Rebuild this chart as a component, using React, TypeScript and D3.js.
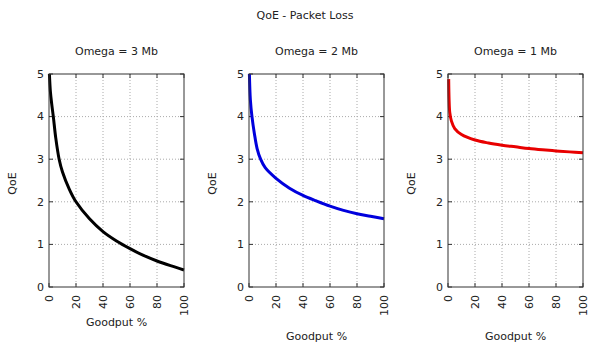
import { useMemo } from 'react';
import * as d3 from 'd3';

const chartTitle = 'QoE - Packet Loss';
const panelTitles = ['Omega = 3 Mb', 'Omega = 2 Mb', 'Omega = 1 Mb'];
const panelColours = ['#000000', '#0000dd', '#e80000'];
const xTicks = [0, 20, 40, 60, 80, 100];
const yTicks = [0, 1, 2, 3, 4, 5];

// goodput %, one list per panel
const goodput3Mb = [0.3, 1, 2, 3.2, 5, 7.5, 10, 15, 20, 30, 40, 50, 60, 70, 80, 90, 100];
const qoe3Mb = [5, 4.6, 4.3, 4, 3.5, 3, 2.7, 2.3, 2.0, 1.6, 1.3, 1.08, 0.9, 0.74, 0.61, 0.5, 0.4];
const goodput2Mb = [0.3, 1, 2.2, 4, 6, 8.6, 12, 20, 30, 40, 50, 60, 70, 80, 90, 100];
const qoe2Mb = [5, 4.4, 4, 3.6, 3.25, 3, 2.8, 2.55, 2.32, 2.15, 2.02, 1.9, 1.8, 1.72, 1.66, 1.6];
const goodput1Mb = [0.5, 0.8, 1.3, 2.5, 5, 10, 20, 30, 40, 50, 60, 70, 80, 90, 100];
const qoe1Mb = [4.88, 4.4, 4.1, 3.9, 3.72, 3.58, 3.45, 3.38, 3.33, 3.29, 3.25, 3.22, 3.195, 3.172, 3.15];

const seriesX = [goodput3Mb, goodput2Mb, goodput1Mb];
const seriesY = [qoe3Mb, qoe2Mb, qoe1Mb];

const WIDTH = 594;
const HEIGHT = 345;
const plotLefts = [49, 249, 448];
const plotWidth = 135;
const plotTop = 74;
const plotBottom = 287;
const xLabelY = [326, 340, 340];
const font = '"DejaVu Sans", Verdana, sans-serif';

function Panel(props: { index: number }) {
    const { index } = props;
    const left = plotLefts[index];
    const right = left + plotWidth;

    const x = useMemo(() => d3.scaleLinear().domain([0, 100]).range([left, right]), [left, right]);
    const y = useMemo(() => d3.scaleLinear().domain([0, 5]).range([plotBottom, plotTop]), []);

    const path = useMemo(() => {
        const pts = seriesX[index].map((gx, i) => [gx, seriesY[index][i]] as [number, number]);
        return d3
            .line<[number, number]>()
            .x((d) => x(d[0]))
            .y((d) => y(d[1]))
            .curve(d3.curveCatmullRom.alpha(0.5))(pts)!;
    }, [index, x, y]);

    const tick = 4;
    const cx = (left + right) / 2;

    return (
        <g fontFamily={font} fill="#222">
            <text x={cx} y={55} textAnchor="middle" fontSize={11}>
                {panelTitles[index]}
            </text>
            {/* grid */}
            {xTicks.slice(1, -1).map((t) => (
                <line key={'gx' + t} x1={x(t)} x2={x(t)} y1={plotTop} y2={plotBottom}
                    stroke="#aaa" strokeDasharray="1,2" />
            ))}
            {yTicks.slice(1, -1).map((t) => (
                <line key={'gy' + t} x1={left} x2={right} y1={y(t)} y2={y(t)}
                    stroke="#aaa" strokeDasharray="1,2" />
            ))}
            {/* ticks, mirrored */}
            {xTicks.map((t) => (
                <g key={'tx' + t} stroke="#333">
                    <line x1={x(t)} x2={x(t)} y1={plotBottom} y2={plotBottom - tick} />
                    <line x1={x(t)} x2={x(t)} y1={plotTop} y2={plotTop + tick} />
                </g>
            ))}
            {yTicks.map((t) => (
                <g key={'ty' + t} stroke="#333">
                    <line x1={left} x2={left + tick} y1={y(t)} y2={y(t)} />
                    <line x1={right} x2={right - tick} y1={y(t)} y2={y(t)} />
                </g>
            ))}
            <path d={path} fill="none" stroke={panelColours[index]} strokeWidth={3} strokeLinejoin="round" />
            <rect x={left} y={plotTop} width={plotWidth} height={plotBottom - plotTop}
                fill="none" stroke="#333" strokeWidth={1} />
            {yTicks.map((t) => (
                <text key={'ly' + t} x={left - 5} y={y(t)} dy="0.35em" textAnchor="end" fontSize={11}>
                    {t}
                </text>
            ))}
            {xTicks.map((t) => (
                <text key={'lx' + t} transform={`translate(${x(t)},${plotBottom + 8}) rotate(-90)`}
                    dy="0.35em" textAnchor="end" fontSize={11}>
                    {t}
                </text>
            ))}
            <text transform={`translate(${left - 33},${(plotTop + plotBottom) / 2 + 3}) rotate(-90)`}
                textAnchor="middle" fontSize={11}>
                QoE
            </text>
            <text x={cx} y={xLabelY[index]} textAnchor="middle" fontSize={11}>
                Goodput %
            </text>
        </g>
    );
}

export default function App() {
    return (
        <svg width={WIDTH} height={HEIGHT} viewBox={`0 0 ${WIDTH} ${HEIGHT}`}
            style={{ position: 'absolute', left: 0, top: 0, background: '#fff' }}>
            <text x={305} y={19} textAnchor="middle" fontSize={11} fontFamily={font} fill="#222">
                {chartTitle}
            </text>
            {[0, 1, 2].map((i) => (
                <Panel key={i} index={i} />
            ))}
        </svg>
    );
}
